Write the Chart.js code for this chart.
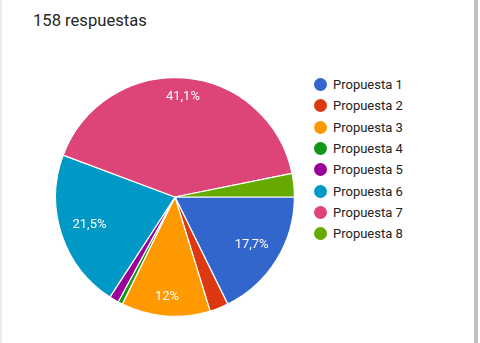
<!DOCTYPE html>
<html>
<head>
<meta charset="utf-8">
<script src="https://cdn.jsdelivr.net/npm/chart.js@4"></script>
<style>
  body { margin: 0; background: #fff; font-family: Roboto, sans-serif; }
  #page { position: relative; width: 480px; height: 343px; overflow: hidden; }
  #leftLine { position: absolute; left: 0; top: 0; width: 2px; height: 343px; background: #ececec; }
  #rightBar { position: absolute; left: 474px; top: 0; width: 4px; height: 343px; background: #c2c2c2; }
  #title { position: absolute; left: 33px; top: 11px; font-size: 16.6px; color: #262626; }
  #pieWrap { position: absolute; left: 55px; top: 77px; width: 240px; height: 240px; }
  #legend { position: absolute; left: 314px; top: 74px; }
  .item { height: 21.3px; display: flex; align-items: center; font-size: 13px; color: #222; }
  .dot { width: 13px; height: 13px; border-radius: 50%; margin-right: 6px; }
</style>
</head>
<body>
<div id="page">
  <div id="leftLine"></div>
  <div id="rightBar"></div>
  <div id="title">158 respuestas</div>
  <div id="pieWrap"><canvas id="pieChart" width="240" height="240"></canvas></div>
  <div id="legend"></div>
</div>
<script>
const labels = ["Propuesta 1", "Propuesta 2", "Propuesta 3", "Propuesta 4", "Propuesta 5", "Propuesta 6", "Propuesta 7", "Propuesta 8"];
const counts = [28, 4, 19, 1, 2, 34, 65, 5];
const colors = ["#3366cc", "#dc3912", "#ff9900", "#109618", "#990099", "#0099c6", "#dd4477", "#66aa00"];

// legend built from the same arrays
const legend = document.getElementById("legend");
labels.forEach((name, i) => {
  const row = document.createElement("div");
  row.className = "item";
  row.innerHTML = `<span class="dot" style="background:${colors[i]}"></span>${name}`;
  legend.appendChild(row);
});

const total = counts.reduce((a, b) => a + b, 0);

function pctText(v) {
  const p = Math.round(v / total * 1000) / 10;
  return String(p).replace(".", ",") + "%";
}

// percent labels inside the bigger slices
const sliceLabels = {
  id: "sliceLabels",
  afterDatasetsDraw(chart) {
    const ctx = chart.ctx;
    const meta = chart.getDatasetMeta(0);
    ctx.save();
    ctx.font = "13px Roboto";
    ctx.fillStyle = "#ffffff";
    ctx.textAlign = "center";
    ctx.textBaseline = "middle";
    meta.data.forEach((arc, i) => {
      const v = counts[i];
      if (v / total < 0.05) return;
      const p = arc.getProps(["x", "y", "startAngle", "endAngle", "outerRadius"], true);
      const mid = (p.startAngle + p.endAngle) / 2;
      const txt = pctText(v);
      const halfW = ctx.measureText(txt).width / 2;
      const halfH = 7;
      const c = Math.cos(mid), s = Math.sin(mid);
      const d = p.outerRadius - (Math.abs(c) * halfW + Math.abs(s) * halfH) - 11;
      ctx.fillText(txt, p.x + c * d, p.y + s * d);
    });
    ctx.restore();
  }
};

new Chart(document.getElementById("pieChart").getContext("2d"), {
  type: "pie",
  data: {
    labels: labels,
    datasets: [{
      data: counts,
      backgroundColor: colors,
      borderColor: "#ffffff",
      borderWidth: 1.2
    }]
  },
  options: {
    responsive: false,
    animation: false,
    rotation: 90,
    layout: { padding: 0 },
    plugins: {
      legend: { display: false },
      tooltip: { enabled: false }
    }
  },
  plugins: [sliceLabels]
});
</script>
</body>
</html>
